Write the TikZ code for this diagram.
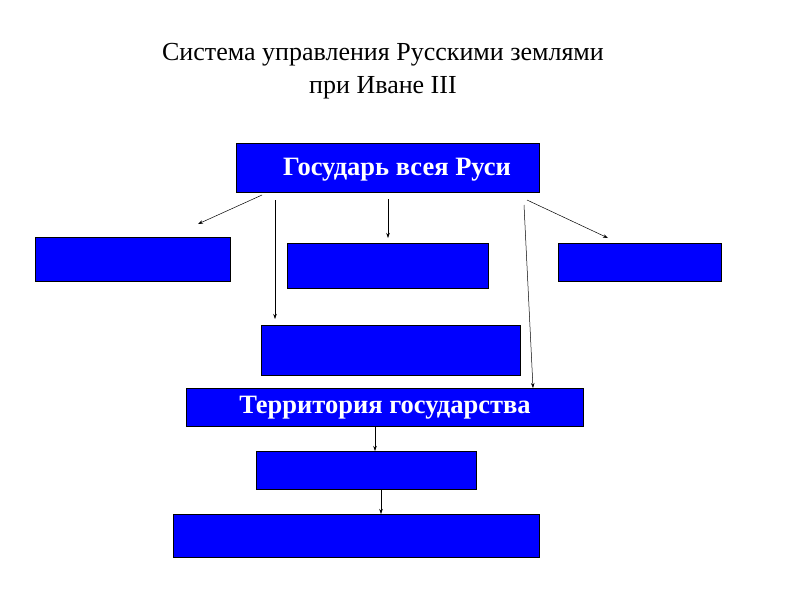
\documentclass[tikz,border=0pt]{standalone}
\usepackage{fontspec}
\setmainfont{Liberation Serif}
\usetikzlibrary{arrows.meta}
\begin{document}
\begin{tikzpicture}[x=1pt,y=-1pt,
  bx/.style={draw=black,fill=blue,line width=0.6pt},
  lbl/.style={text=white,font=\bfseries\fontsize{26.5}{30}\selectfont},
  arr/.style={-{Stealth[length=5pt,width=3.5pt]},line width=0.5pt}]
\useasboundingbox (0,0) rectangle (800,600);
\node[font=\fontsize{26}{33}\selectfont,align=center] (title) at (383,71) {Система управления Русскими землями\\при Иване III};
\draw[bx] (236,143) rectangle (539,192);
\node[lbl] (top) at (397,170) {Государь всея Руси};
\draw[bx] (35,237) rectangle (230,281);
\draw[bx] (287,243) rectangle (488,288);
\draw[bx] (558,243) rectangle (721,281);
\draw[bx] (261,325) rectangle (520,375);
\draw[bx] (186,388) rectangle (583,426);
\node[lbl] (terr) at (385,408) {Территория государства};
\draw[bx] (256,451) rectangle (476,489);
\draw[bx] (173,514) rectangle (539,557);
\coordinate (a1) at (262,195); \coordinate (b1) at (198,224);
\coordinate (a2) at (388,199); \coordinate (b2) at (388,238);
\coordinate (a3) at (275,200); \coordinate (b3) at (275,319);
\coordinate (a4) at (527,200); \coordinate (b4) at (608,238);
\coordinate (a5) at (524,205); \coordinate (b5) at (533,388);
\coordinate (a6) at (375,426); \coordinate (b6) at (375,451);
\coordinate (a7) at (381,489); \coordinate (b7) at (381,514);
\foreach \i in {1,...,7} \draw[arr] (a\i) -- (b\i);
\end{tikzpicture}
\end{document}
